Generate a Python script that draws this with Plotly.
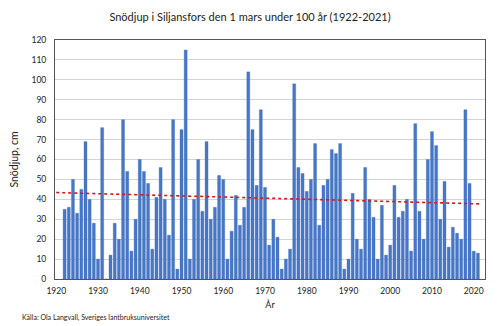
import plotly.graph_objects as go

years = list(range(1922, 2022))
snow_depth = [
    35, 36, 50, 33, 45, 69, 40, 28, 10, 76,   # 1922-1931
    0, 12, 28, 20, 80, 54, 14, 30, 60, 54,    # 1932-1941
    48, 15, 41, 56, 40, 22, 80, 5, 75, 115,   # 1942-1951
    10, 40, 60, 34, 69, 30, 36, 52, 50, 10,   # 1952-1961
    24, 42, 27, 36, 104, 75, 47, 85, 46, 17,  # 1962-1971
    30, 21, 5, 10, 15, 98, 56, 53, 44, 50,    # 1972-1981
    68, 27, 47, 50, 65, 63, 68, 5, 10, 43,    # 1982-1991
    20, 15, 56, 40, 31, 10, 37, 12, 17, 47,   # 1992-2001
    31, 34, 40, 14, 78, 34, 20, 60, 74, 67,   # 2002-2011
    30, 49, 16, 26, 23, 20, 85, 48, 14, 13,   # 2012-2021
]
trend_years = [1920, 2021.5]
trend_values = [43.4, 37.7]

title_text = "Snödjup i Siljansfors den 1 mars under 100 år (1922-2021)"
source_text = "Källa: Ola Langvall, Sveriges lantbruksuniversitet"
font_family = "Lato, 'Open Sans', sans-serif"

fig = go.Figure()
fig.add_trace(go.Bar(
    x=years, y=snow_depth, width=0.72,
    marker=dict(color="#4677C8", line=dict(color="#3A66B0", width=0.3)),
    showlegend=False, hoverinfo="x+y",
))
fig.add_trace(go.Scatter(
    x=trend_years, y=trend_values, mode="lines",
    line=dict(color="#D9141B", width=1.6, dash="dot"),
    showlegend=False, hoverinfo="skip",
))

fig.update_layout(
    width=500, height=326,
    margin=dict(l=55, r=15, t=40, b=47),
    paper_bgcolor="white", plot_bgcolor="white",
    font=dict(family=font_family, color="#222222", size=9),
    title=dict(text=title_text, x=0.5, xanchor="center", y=0.948, yanchor="middle",
               font=dict(size=11, family=font_family, color="#222222")),
    bargap=0.2,
    xaxis=dict(
        range=[1919.7, 2022.7], tickmode="array",
        tickvals=list(range(1920, 2021, 10)),
        ticktext=[str(v) for v in range(1920, 2021, 10)],
        showgrid=False, zeroline=False,
        showline=True, linecolor="#555555", linewidth=1, mirror=True,
        ticks="", tickfont=dict(size=8.5), ticklabelstandoff=4,
        title=dict(text="År", font=dict(size=9), standoff=6),
    ),
    yaxis=dict(
        range=[0, 120], dtick=10, tick0=0,
        showgrid=True, gridcolor="#D4D4D4", gridwidth=1,
        zeroline=False,
        showline=True, linecolor="#555555", linewidth=1, mirror=True,
        ticks="", tickfont=dict(size=8.5), ticklabelstandoff=6,
        title=dict(text="Snödjup, cm", font=dict(size=10.5), standoff=10),
    ),
    annotations=[dict(
        text=source_text, xref="paper", yref="paper",
        x=-0.081, y=-0.163, xanchor="left", yanchor="middle",
        showarrow=False, font=dict(size=7, family=font_family, color="#222222"),
    )],
)

fig.write_html("out.html")
